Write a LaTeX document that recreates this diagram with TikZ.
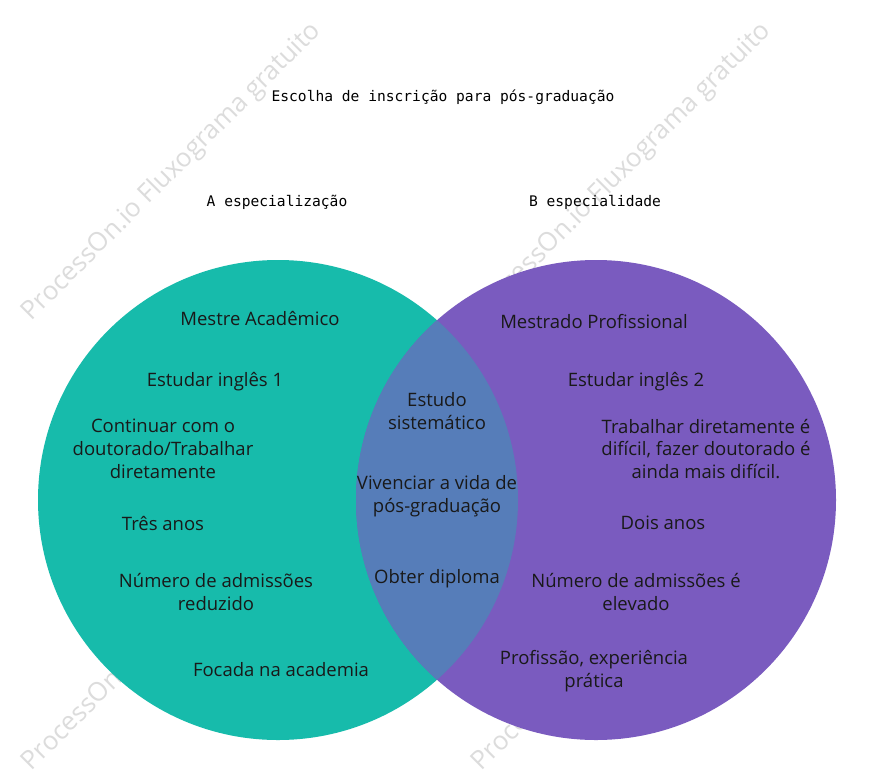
\documentclass[tikz,border=0pt]{standalone}
\usepackage{fontspec}
\setmainfont{Open Sans}
\newfontfamily\monof{DejaVu Sans Mono}
\definecolor{tealc}{HTML}{17BBAB}
\definecolor{purplec}{HTML}{7A5BBF}
\definecolor{overlapc}{HTML}{567DB9}
\definecolor{wmark}{HTML}{DCDCDC}
\begin{document}
\begin{tikzpicture}[x=1pt,y=-1pt,
  txt/.style={font=\fontsize{18.5}{22.8}\selectfont, align=center, text=black!90, inner sep=0pt},
  mono/.style={font=\monof\fontsize{14.6}{16}\selectfont, text=black, inner sep=0pt},
  wm/.style={font=\fontsize{26}{28}\selectfont, text=wmark, rotate=45, inner sep=0pt}]
\useasboundingbox (0,0) rectangle (873,777);
\fill[white] (0,0) rectangle (873,777);
% watermarks
\node[wm] (w1) at (172,172) {ProcessOn.io Fluxograma gratuito};
\node[wm] (w2) at (622,172) {ProcessOn.io Fluxograma gratuito};
\node[wm] (w3) at (172,622) {ProcessOn.io Fluxograma gratuito};
\node[wm] (w4) at (622,622) {ProcessOn.io Fluxograma gratuito};
% circles
\fill[tealc] (278,500) circle[radius=240pt];
\fill[purplec] (596,500) circle[radius=240pt];
\begin{scope}
  \clip (278,500) circle[radius=240pt];
  \fill[overlapc] (596,500) circle[radius=240pt];
\end{scope}
% titles
\node[mono] (title) at (443,97) {Escolha de inscrição para pós-graduação};
\node[mono] (ta) at (277,202) {A especialização};
\node[mono] (tb) at (595,202) {B especialidade};
% left
\node[txt] (l1) at (260,318) {Mestre Acadêmico};
\node[txt] (l2) at (215,382) {Estudar inglês 1};
\node[txt] (l3) at (163,449) {Continuar com o\\doutorado/Trabalhar\\diretamente};
\node[txt] (l4) at (163,523) {Três anos};
\node[txt] (l5) at (216,592) {Número de admissões\\reduzido};
\node[txt] (l6) at (281,670) {Focada na academia};
% middle
\node[txt] (m1) at (437,411) {Estudo\\sistemático};
\node[txt] (m2) at (437,496) {Vivenciar a vida de\\pós-graduação};
\node[txt] (m3) at (437,579) {Obter diploma};
% right
\node[txt] (r1) at (594,322) {Mestrado Profissional};
\node[txt] (r2) at (636,382) {Estudar inglês 2};
\node[txt] (r3) at (706,449) {Trabalhar diretamente é\\difícil, fazer doutorado é\\ainda mais difícil.};
\node[txt] (r4) at (663,523) {Dois anos};
\node[txt] (r5) at (636,592) {Número de admissões é\\elevado};
\node[txt] (r6) at (594,671) {Profissão, experiência\\prática};
\end{tikzpicture}
\end{document}
